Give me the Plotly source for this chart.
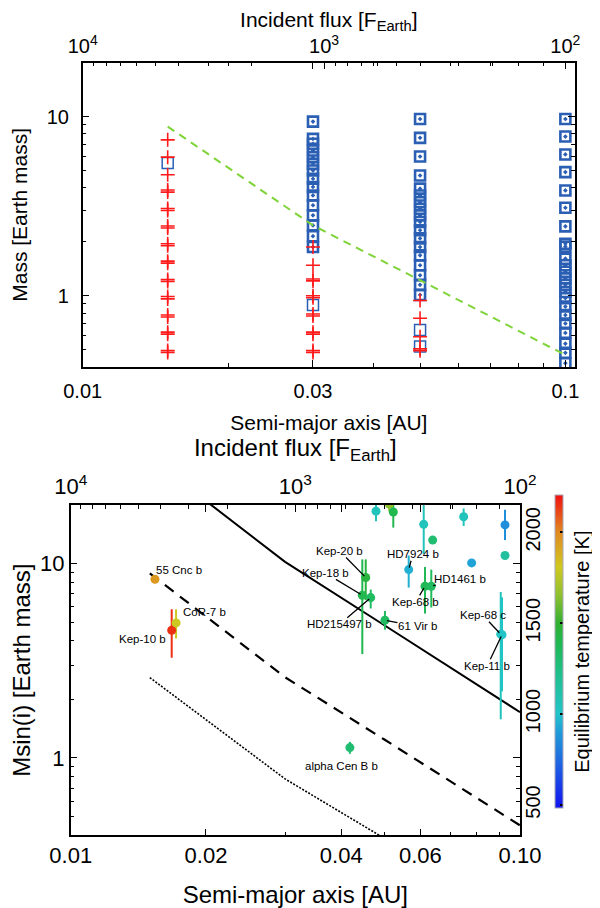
import math
import plotly.graph_objects as go
from plotly.colors import sample_colorscale

# ---------------- data: top panel (simulation grid) ----------------
COL_A = [0.015, 0.03, 0.05, 0.1]

cross_m_c1 = [7.42, 5.94, 4.74, 3.89, 3.79, 3.07, 2.99, 2.45, 2.39, 1.95, 1.90,
              1.56, 1.52, 1.23, 1.20, 0.99, 0.96, 0.78, 0.76, 0.626, 0.61, 0.494, 0.482]
cross_m_c2 = [1.87, 1.48, 1.24, 1.21, 1.00, 0.975, 0.79, 0.77, 0.626, 0.61, 0.494, 0.482]
cross_m_c3 = [0.94, 0.748, 0.59, 0.505, 0.493]
cross_m_c4 = []

sq_bold_c1 = []
sq_bold_c2 = [9.38, 7.51, 7.05, 6.47, 5.94, 5.45, 5.0, 4.5, 4.05, 3.63, 3.2, 2.81, 2.47, 2.15, 1.87]
sq_bold_c3 = [9.7, 7.61, 5.99, 4.69, 3.96, 3.63, 3.33, 3.06, 2.81, 2.58, 2.32, 2.09, 1.87,
              1.68, 1.48, 1.30, 1.15, 1.01]
sq_bold_c4 = [9.7, 7.74, 6.15, 4.90, 3.87, 3.10, 2.44, 1.95, 1.88, 1.61, 1.48, 1.36, 1.25,
              1.15, 1.05, 0.97, 0.87, 0.78, 0.70, 0.62, 0.54, 0.48, 0.42]

sq_thin_c1 = [5.5]
sq_thin_c2 = [0.887]
sq_thin_c3 = [0.644, 0.52]
sq_thin_c4 = []

green_a = [0.015, 0.03, 0.05, 0.1]
green_m = [8.8, 2.47, 1.22, 0.467]

# ---------------- data: bottom panel (observed planets) ----------------
line_a = [0.015, 0.03, 0.05, 0.1]
solid_m = [35.0, 10.2, 4.8, 1.72]
dashed_m = [8.9, 2.6, 1.24, 0.45]
dotted_m = [2.59, 0.78, 0.385, 0.147]

planet_names = ["55 Cnc b", "Kep-10 b", "CoR-7 b", "Kep-20 b", "Kep-18 b", "HD215497 b",
                "61 Vir b", "alpha Cen B b", "HD7924 b", "Kep-68 b", "HD1461 b", "Kep-68 c",
                "Kep-11 b", "", "", "", "", "", "", "", "", ""]
planet_a = [0.0154, 0.01678, 0.01716, 0.04536, 0.04457, 0.04653, 0.05005, 0.04182, 0.05653,
            0.06146, 0.06347, 0.0906, 0.0912, 0.04781, 0.05117, 0.05224, 0.06105, 0.06392,
            0.07492, 0.07805, 0.09261, 0.09261]
planet_m = [8.30, 4.54, 4.95, 8.47, 6.87, 6.68, 5.11, 1.13, 9.31, 7.64, 7.64, 4.33, 4.30,
            18.6, 20.2, 18.4, 15.9, 13.2, 17.4, 10.07, 15.8, 11.0]
planet_m_hi = [8.5, 5.82, 5.82, 10.5, 10.5, 7.35, 5.7, 1.21, 11.0, 9.6, 9.3, 7.14, 6.7,
               20.7, 22.0, 21.9, 20.0, 13.6, 19.2, 10.3, 18.9, 11.3]
planet_m_lo = [8.1, 3.28, 4.11, 6.48, 3.42, 5.87, 4.57, 1.05, 7.52, 5.53, 5.94, 1.58, 2.2,
               16.5, 18.5, 15.3, 11.2, 12.8, 15.6, 9.8, 13.2, 10.7]
planet_teq = [1950, 2150, 1800, 1450, 1400, 1350, 1350, 1300, 950, 1380, 1350, 1050, 1000,
              1050, 1650, 1400, 1050, 1300, 1050, 920, 860, 1150]

# label offsets (pixels from the point to the label centre) and leader-line flags
label_dx = [24.5, -29.4, 28, -26, -37.3, -31, 32.5, -8.3, 4.1, -9.2, 28.4, -17.9, -14.8]
label_dy = [-9, 8.7, -10.7, -26.6, -22.3, 26.7, 6, 18.3, -15.3, 15.7, -7.7, -19, 31]
label_leader = [False, False, False, True, True, True, True, False, True, True, True, True, True]

teq_ticks = [500, 1000, 1500, 2000]
TEQ_MIN, TEQ_MAX = 482, 2205

top_x_ticks = [0.01, 0.03, 0.1]
top_x_minor = [0.02, 0.04, 0.05, 0.06, 0.07, 0.08, 0.09]
bot_x_ticks = [0.01, 0.02, 0.04, 0.06, 0.1]
bot_x_ticktext = ["0.01", "0.02", "0.04", "0.06", "0.10"]
bot_x_minor = [0.03, 0.05, 0.07, 0.08, 0.09]
y_ticks = [1, 10]
y_minor = [0.4, 0.5, 0.6, 0.7, 0.8, 0.9, 2, 3, 4, 5, 6, 7, 8, 9, 20]
flux_ticks = [1e4, 1e3, 1e2]
flux_ticktext = ["10<sup>4</sup>", "10<sup>3</sup>", "10<sup>2</sup>"]
flux_minor = [9000, 8000, 7000, 6000, 5000, 4000, 3000, 2000, 900, 800, 700, 600, 500, 400, 300, 200]

colorscale = [[0.0, "#1212f0"], [0.16, "#1f6fe0"], [0.25, "#20a0d8"], [0.30, "#22c4c8"],
              [0.42, "#20c090"], [0.53, "#20b850"], [0.59, "#30b030"], [0.68, "#90c030"],
              [0.77, "#d0c820"], [0.88, "#e08a20"], [1.0, "#f01010"]]

FONT = "Liberation Sans, Arial, sans-serif"
OFF = 8                      # page body margin of the html page
W, H = 600 - OFF, 908 - OFF


def fx(p):
    return (p - OFF) / W


def fy(p):
    return 1 - (p - OFF) / H


fig = go.Figure()

# ---------------- top panel traces ----------------
cross_x, cross_y = [], []
for a, ms in zip(COL_A, [cross_m_c1, cross_m_c2, cross_m_c3, cross_m_c4]):
    cross_x += [a] * len(ms)
    cross_y += ms
bold_x, bold_y = [], []
for a, ms in zip(COL_A, [sq_bold_c1, sq_bold_c2, sq_bold_c3, sq_bold_c4]):
    bold_x += [a] * len(ms)
    bold_y += ms
thin_x, thin_y = [], []
for a, ms in zip(COL_A, [sq_thin_c1, sq_thin_c2, sq_thin_c3, sq_thin_c4]):
    thin_x += [a] * len(ms)
    thin_y += ms

fig.add_trace(go.Scatter(x=bold_x, y=bold_y, mode="markers", xaxis="x", yaxis="y",
                         marker=dict(symbol="square-open-dot", size=10, color="#2b5fb4",
                                     line=dict(width=2.6, color="#2b5fb4"))))
fig.add_trace(go.Scatter(x=thin_x, y=thin_y, mode="markers", xaxis="x", yaxis="y",
                         marker=dict(symbol="square-open", size=11, color="#2b5fb4",
                                     line=dict(width=1.5, color="#2b5fb4"))))
fig.add_trace(go.Scatter(x=cross_x, y=cross_y, mode="markers", xaxis="x", yaxis="y",
                         marker=dict(symbol="cross-thin-open", size=10, color="#ff1a1a",
                                     line=dict(width=1.6, color="#ff1a1a"))))
fig.add_trace(go.Scatter(x=green_a, y=green_m, mode="lines", xaxis="x", yaxis="y",
                         line=dict(color="#7fd43a", width=2, dash="8px,6px")))
fig.add_trace(go.Scatter(x=[], y=[], xaxis="x2", yaxis="y", hoverinfo="skip"))

# ---------------- bottom panel traces ----------------
fig.add_trace(go.Scatter(x=line_a, y=solid_m, mode="lines", xaxis="x3", yaxis="y3",
                         line=dict(color="black", width=2)))
fig.add_trace(go.Scatter(x=line_a, y=dashed_m, mode="lines", xaxis="x3", yaxis="y3",
                         line=dict(color="black", width=2.2, dash="11px,8px")))
fig.add_trace(go.Scatter(x=line_a, y=dotted_m, mode="lines", xaxis="x3", yaxis="y3",
                         line=dict(color="black", width=1.6, dash="2px,1.5px")))

for a, lo, hi, t in zip(planet_a, planet_m_lo, planet_m_hi, planet_teq):
    c = sample_colorscale(colorscale, [(t - TEQ_MIN) / (TEQ_MAX - TEQ_MIN)])[0]
    fig.add_trace(go.Scatter(x=[a, a], y=[lo, hi], mode="lines", xaxis="x3", yaxis="y3",
                             line=dict(color=c, width=2), hoverinfo="skip"))

fig.add_trace(go.Scatter(
    x=planet_a, y=planet_m, mode="markers", xaxis="x3", yaxis="y3", text=planet_names,
    marker=dict(size=9, color=planet_teq, colorscale=colorscale, cmin=TEQ_MIN, cmax=TEQ_MAX,
                line=dict(width=0),
                colorbar=dict(x=fx(555), xanchor="left", xpad=0, ypad=0,
                              y=(fy(495) + fy(808.3)) / 2, yanchor="middle",
                              len=(808.3 - 495) / H, lenmode="fraction",
                              thickness=8, thicknessmode="pixels",
                              outlinewidth=1, outlinecolor="#a8a8b8",
                              tickvals=teq_ticks, ticks="inside", ticklen=3,
                              tickcolor="black", tickwidth=2, showticklabels=False))))
fig.add_trace(go.Scatter(x=[], y=[], xaxis="x4", yaxis="y3", hoverinfo="skip"))
fig.add_trace(go.Scatter(x=[], y=[], xaxis="x5", yaxis="y5", hoverinfo="skip"))
fig.add_trace(go.Scatter(x=[], y=[], xaxis="x5", yaxis="y6", hoverinfo="skip"))

# ---------------- annotations (planet labels) ----------------
annotations = []
for i, name in enumerate(planet_names):
    if not name:
        continue
    ann = dict(x=math.log10(planet_a[i]), y=math.log10(planet_m[i]), xref="x3", yref="y3",
               text=name, font=dict(size=11.5, family=FONT, color="black"))
    if label_leader[i]:
        ann.update(showarrow=True, arrowhead=0, arrowwidth=1.3, arrowcolor="black",
                   ax=label_dx[i], ay=label_dy[i], standoff=2, borderpad=0)
    else:
        ann.update(showarrow=False, xshift=label_dx[i], yshift=-label_dy[i])
    annotations.append(ann)

# ---------------- axes ----------------
axis_common = dict(showgrid=False, zeroline=False, showline=True, linecolor="black",
                   linewidth=1.5, ticks="inside", tickcolor="black", tickwidth=1.2,
                   automargin=False)

top_lo, top_hi = -2.0, math.log10(0.1047)
tick_font_top = dict(size=20, family=FONT, color="black")
title_font_top = dict(size=21, family=FONT, color="black")
tick_font_bot = dict(size=22, family=FONT, color="black")
title_font_bot = dict(size=24, family=FONT, color="black")


def minor_x(vals):
    return dict(tickvals=vals, ticks="inside", ticklen=4, tickcolor="black", tickwidth=1)


fig.update_layout(
    width=W, height=H, margin=dict(l=0, r=0, t=0, b=0),
    paper_bgcolor="white", plot_bgcolor="white", showlegend=False,
    font=dict(family=FONT, color="black"),
    xaxis=dict(**axis_common, type="log", range=[top_lo, top_hi], domain=[fx(82.7), fx(575)],
               anchor="y", mirror="ticks", tickvals=top_x_ticks, ticktext=["0.01", "0.03", "0.1"],
               ticklen=7, ticklabelstandoff=5, minor=minor_x(top_x_minor), tickfont=tick_font_top,
               title=dict(text="Semi-major axis [AU]", font=title_font_top, standoff=15)),
    xaxis2=dict(**axis_common, type="log", range=[-2 * top_lo, -2 * top_hi], overlaying="x",
                side="top", anchor="y", tickvals=flux_ticks, ticktext=flux_ticktext, ticklen=7,
                minor=minor_x(flux_minor), tickfont=tick_font_top,
                title=dict(text="Incident flux [F<sub>Earth</sub>]", font=title_font_top, standoff=18)),
    yaxis=dict(**axis_common, type="log", range=[math.log10(0.4), math.log10(20)],
               domain=[fy(367), fy(62.7)], anchor="x", mirror="ticks",
               tickvals=y_ticks, ticktext=["1", "10"], ticklen=7, ticklabelstandoff=8,
               minor=minor_x(y_minor), tickfont=tick_font_top,
               title=dict(text="Mass [Earth mass]", font=title_font_top, standoff=22)),
    xaxis3=dict(**axis_common, type="log", range=[-2, -1], domain=[fx(70.7), fx(520)],
                anchor="y3", mirror="ticks", tickvals=bot_x_ticks, ticktext=bot_x_ticktext,
                ticklen=7, minor=minor_x(bot_x_minor), tickfont=tick_font_bot,
                title=dict(text="Semi-major axis [AU]", font=title_font_bot, standoff=20)),
    xaxis4=dict(**axis_common, type="log", range=[4, 2], overlaying="x3", side="top",
                anchor="y3", tickvals=flux_ticks, ticktext=flux_ticktext, ticklen=7,
                minor=minor_x(flux_minor), tickfont=tick_font_bot,
                title=dict(text="Incident flux [F<sub>Earth</sub>]", font=title_font_bot, standoff=8)),
    yaxis3=dict(**axis_common, type="log", range=[math.log10(0.4), math.log10(20)],
                domain=[fy(835.3), fy(505)], anchor="x3", mirror="ticks",
                tickvals=y_ticks, ticktext=["1", "10"], ticklen=7, minor=minor_x(y_minor),
                tickfont=tick_font_bot,
                title=dict(text="Msin(i) [Earth mass]", font=title_font_bot, standoff=14)),
    xaxis5=dict(domain=[fx(555), fx(563)], anchor="y5", visible=False, range=[0, 1]),
    yaxis5=dict(domain=[fy(808.3), fy(495)], anchor="x5", range=[TEQ_MIN, TEQ_MAX],
                showgrid=False, zeroline=False, showline=False, ticks="", side="left",
                tickvals=teq_ticks, tickangle=-90, ticklabelstandoff=10,
                tickfont=dict(size=20, family=FONT, color="black"), automargin=False),
    yaxis6=dict(overlaying="y5", anchor="x5", side="right", range=[TEQ_MIN, TEQ_MAX],
                showgrid=False, zeroline=False, showline=False, ticks="",
                showticklabels=False, automargin=False,
                title=dict(text="Equilibrium temperature [K]", standoff=12,
                           font=dict(size=20, family=FONT, color="black"))),
    annotations=annotations,
)

fig.write_html("out.html")
